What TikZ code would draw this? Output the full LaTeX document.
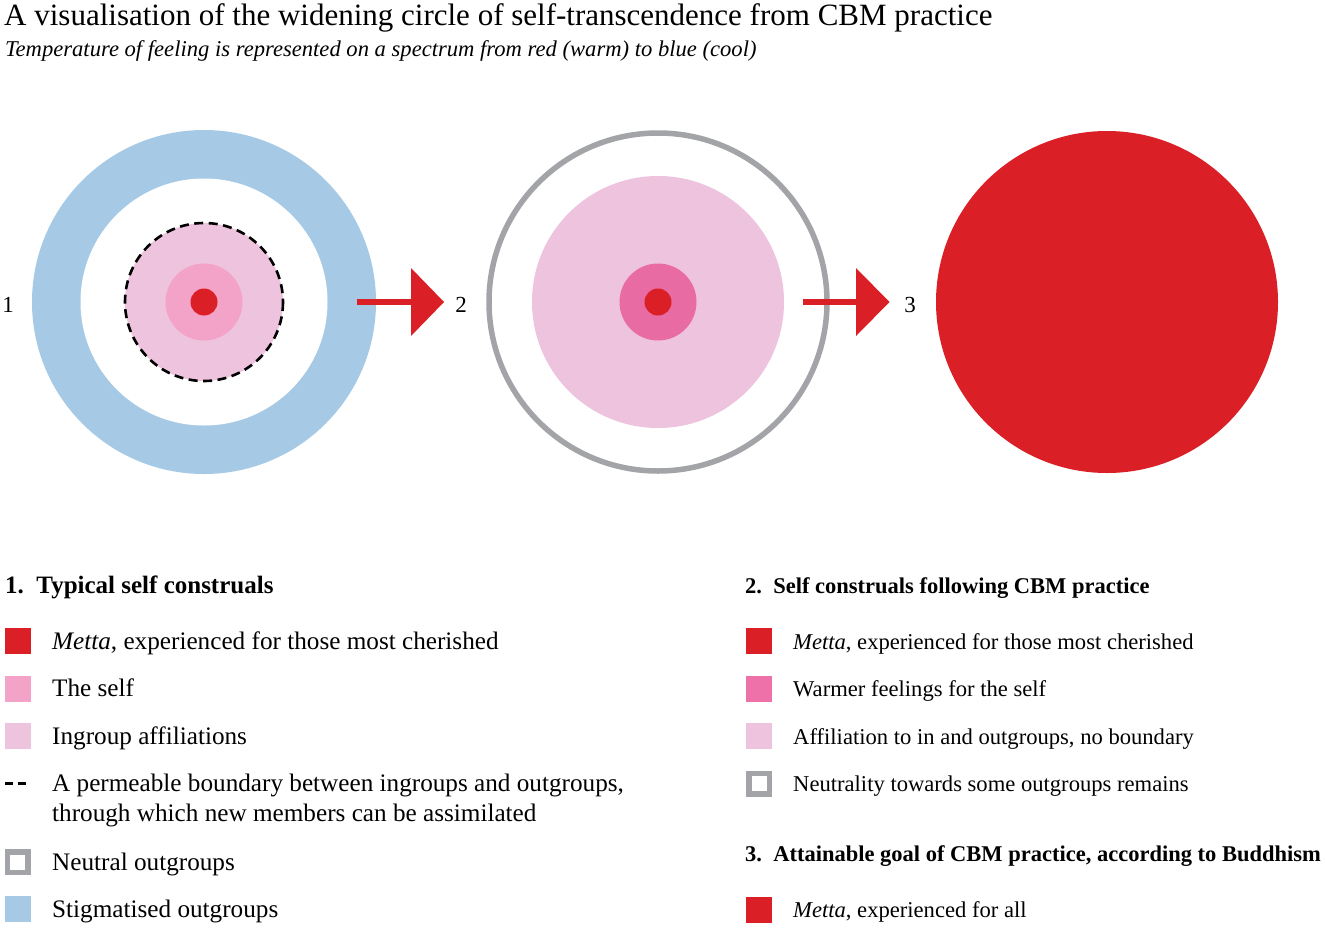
\documentclass[tikz,border=0pt]{standalone}
\usepackage{fontspec}
\setmainfont{Liberation Serif}
\definecolor{cblue}{HTML}{A6CAE6}
\definecolor{cpinklt}{HTML}{EEC3DD}
\definecolor{cpinkself}{HTML}{F4A3C8}
\definecolor{cpinkwarm}{HTML}{E86BA3}
\definecolor{cpinkswatch}{HTML}{EE72A9}
\definecolor{cred}{HTML}{DA1F26}
\definecolor{cgray}{HTML}{A3A4A8}
\begin{document}
\begin{tikzpicture}[x=1pt,y=-1pt,
  disc/.style={circle,inner sep=0pt,draw=none},
  lbl/.style={anchor=base,inner sep=0pt,font=\fontsize{23}{25}\selectfont},
  ltext/.style={anchor=base west,inner sep=0pt,font=\fontsize{25.2}{30}\selectfont,align=left},
  rtext/.style={anchor=base west,inner sep=0pt,font=\fontsize{22.6}{26}\selectfont},
  lhead/.style={anchor=base west,inner sep=0pt,font=\fontsize{25}{28}\selectfont\bfseries},
  rhead/.style={anchor=base west,inner sep=0pt,font=\fontsize{22.5}{26}\selectfont\bfseries},
  swatch/.style={minimum width=26pt,minimum height=26pt,inner sep=0pt,anchor=center},
  neutralbox/.style={swatch,draw=cgray,line width=5.5pt,fill=white,minimum size=20.5pt}]
\useasboundingbox (0,0) rectangle (1325,927);
\fill[white] (0,0) rectangle (1325,927);
% titles
\node[anchor=base west,inner sep=0pt,font=\fontsize{31}{34}\selectfont] (title) at (4,25) {A visualisation of the widening circle of self-transcendence from CBM practice};
\node[anchor=base west,inner sep=0pt,font=\fontsize{22.6}{26}\selectfont\itshape] (subtitle) at (5,56) {Temperature of feeling is represented on a spectrum from red (warm) to blue (cool)};
% circle 1
\node[disc,fill=cblue,minimum size=344pt] (c1out) at (204,302) {};
\node[disc,fill=white,minimum size=247pt] (c1white) at (204,302) {};
\node[disc,fill=cpinklt,minimum size=158pt] (c1in) at (204,302) {};
\draw[black,line width=2.6pt,dash pattern=on 9pt off 5.5pt] (204,302) circle[radius=79];
\node[disc,fill=cpinkself,minimum size=77pt] (c1self) at (204,302) {};
\node[disc,fill=cred,minimum size=27pt] (c1core) at (204,302) {};
% circle 2
\draw[cgray,line width=5.5pt] (658,302) circle[radius=169];
\node[disc,fill=cpinklt,minimum size=252pt] (c2in) at (658,302) {};
\node[disc,fill=cpinkwarm,minimum size=77pt] (c2self) at (658,302) {};
\node[disc,fill=cred,minimum size=27pt] (c2core) at (658,302) {};
% circle 3
\node[disc,fill=cred,minimum size=342pt] (c3) at (1107,302) {};
% arrows
\fill[cred] (357,299.3) rectangle (412,304.8);
\fill[cred] (411,268) -- (444,302) -- (411,336) -- cycle;
\fill[cred] (803,299.3) rectangle (857,304.8);
\fill[cred] (856,268) -- (889.5,302) -- (856,336) -- cycle;
% stage labels
\node[lbl] (n1) at (8,312) {1};
\node[lbl] (n2) at (461,312) {2};
\node[lbl] (n3) at (910,312) {3};
% left legend
\node[lhead] (h1) at (5,593) {1.\hspace{0.5em}Typical self construals};
\node[swatch,fill=cred] (s11) at (17.5,641) {};
\node[ltext] (t11) at (52,649) {\textit{Metta}, experienced for those most cherished};
\node[swatch,fill=cpinkself] (s12) at (17.5,688.5) {};
\node[ltext] (t12) at (52,696.5) {The self};
\node[swatch,fill=cpinklt] (s13) at (17.5,736) {};
\node[ltext] (t13) at (52,744) {Ingroup affiliations};
\draw[black,line width=3pt] (5,783) -- (13,783) (18,783) -- (26,783);
\node[ltext] (t14) at (52,821.5) {A permeable boundary between ingroups and outgroups,\\through which new members can be assimilated};
\node[neutralbox] (s15) at (17.5,862) {};
\node[ltext] (t15) at (52,870) {Neutral outgroups};
\node[swatch,fill=cblue] (s16) at (17.5,909) {};
\node[ltext] (t16) at (52,917) {Stigmatised outgroups};
% right legend
\node[rhead] (h2) at (745,593.5) {2.\hspace{0.5em}Self construals following CBM practice};
\node[swatch,fill=cred] (s21) at (759,641) {};
\node[rtext] (t21) at (793,649) {\textit{Metta}, experienced for those most cherished};
\node[swatch,fill=cpinkswatch] (s22) at (759,688.5) {};
\node[rtext] (t22) at (793,696.5) {Warmer feelings for the self};
\node[swatch,fill=cpinklt] (s23) at (759,736) {};
\node[rtext] (t23) at (793,744) {Affiliation to in and outgroups, no boundary};
\node[neutralbox] (s24) at (759,783.5) {};
\node[rtext] (t24) at (793,791.5) {Neutrality towards some outgroups remains};
\node[rhead] (h3) at (745,861.5) {3.\hspace{0.5em}Attainable goal of CBM practice, according to Buddhism};
\node[swatch,fill=cred] (s31) at (759,909.5) {};
\node[rtext] (t31) at (793,917) {\textit{Metta}, experienced for all};
\end{tikzpicture}
\end{document}
